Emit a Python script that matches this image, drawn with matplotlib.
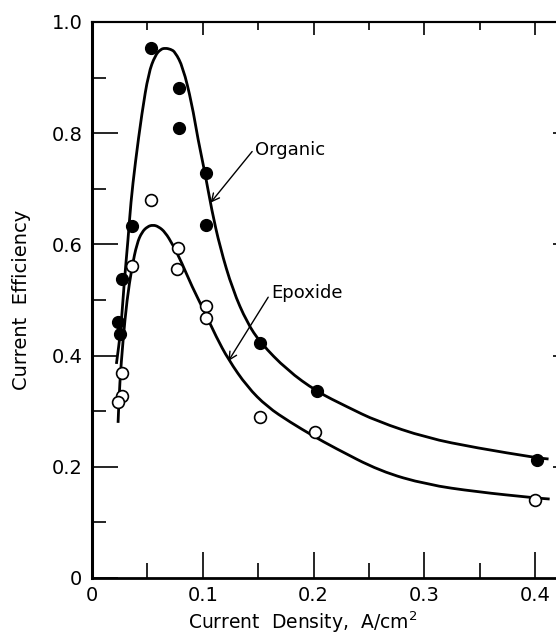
import matplotlib.pyplot as plt
from matplotlib.path import Path
from matplotlib.patches import PathPatch
from matplotlib.ticker import MultipleLocator

# measured points
organic_x = [0.053, 0.0785, 0.0785, 0.103, 0.103, 0.036, 0.027, 0.0235, 0.025, 0.152, 0.203, 0.402]
organic_y = [0.953, 0.881, 0.809, 0.728, 0.635, 0.633, 0.538, 0.460, 0.439, 0.423, 0.336, 0.212]
epoxide_x = [0.053, 0.078, 0.077, 0.103, 0.103, 0.036, 0.027, 0.027, 0.0235, 0.152, 0.201, 0.400]
epoxide_y = [0.680, 0.594, 0.556, 0.489, 0.468, 0.561, 0.369, 0.327, 0.317, 0.290, 0.263, 0.140]

# drawn curves
organic_curve_x = [0.022, 0.026, 0.029, 0.0325, 0.035, 0.039, 0.045, 0.051, 0.057, 0.062, 0.066,
                   0.071, 0.075, 0.082, 0.090, 0.0957, 0.102, 0.108, 0.1155, 0.127, 0.140, 0.152,
                   0.176, 0.203, 0.230, 0.257, 0.302, 0.347, 0.402, 0.412]
organic_curve_y = [0.385, 0.446, 0.531, 0.608, 0.675, 0.746, 0.836, 0.908, 0.940, 0.951, 0.953,
                   0.951, 0.946, 0.919, 0.854, 0.788, 0.728, 0.662, 0.595, 0.518, 0.459, 0.423,
                   0.374, 0.335, 0.308, 0.282, 0.252, 0.234, 0.216, 0.214]
epoxide_curve_x = [0.0235, 0.025, 0.028, 0.0315, 0.036, 0.0406, 0.045, 0.050, 0.055, 0.060, 0.066,
                   0.073, 0.081, 0.090, 0.102, 0.112, 0.123, 0.140, 0.158, 0.179, 0.200, 0.218,
                   0.260, 0.302, 0.347, 0.400, 0.413]
epoxide_curve_y = [0.279, 0.351, 0.428, 0.500, 0.559, 0.602, 0.622, 0.632, 0.635, 0.632, 0.622,
                   0.599, 0.567, 0.525, 0.477, 0.434, 0.393, 0.344, 0.308, 0.280, 0.255, 0.235,
                   0.192, 0.168, 0.155, 0.144, 0.142]

x_ticks = [0, 0.1, 0.2, 0.3, 0.4]
x_tick_labels = ['0', '0.1', '0.2', '0.3', '0.4']
y_ticks = [0, 0.2, 0.4, 0.6, 0.8, 1.0]
y_tick_labels = ['0', '0.2', '0.4', '0.6', '0.8', '1.0']


def smooth_path(xs, ys):
    # quadratic bezier through midpoints, the read points act as control points
    pts = list(zip(xs, ys))
    verts = [pts[0]]
    codes = [Path.MOVETO]
    mids = [((pts[i][0] + pts[i + 1][0]) / 2, (pts[i][1] + pts[i + 1][1]) / 2)
            for i in range(len(pts) - 1)]
    verts.append(mids[0])
    codes.append(Path.LINETO)
    for i in range(1, len(pts) - 1):
        verts += [pts[i], mids[i]]
        codes += [Path.CURVE3, Path.CURVE3]
    verts.append(pts[-1])
    codes.append(Path.LINETO)
    return Path(verts, codes)


fig = plt.figure(figsize=(5.56, 6.35), dpi=100)
ax = fig.add_axes([0.1655, 0.0898, 0.847, 0.8756])

for cx, cy in [(organic_curve_x, organic_curve_y), (epoxide_curve_x, epoxide_curve_y)]:
    ax.add_patch(PathPatch(smooth_path(cx, cy), fill=False, edgecolor='black',
                           lw=2.0, capstyle='butt', joinstyle='round'))
ax.plot(organic_x, organic_y, 'o', color='black', ms=8.5, zorder=3)
ax.plot(epoxide_x, epoxide_y, 'o', mfc='white', mec='black', mew=1.2, ms=8.5, zorder=3)

# labels with arrows
ax.annotate('', xy=(0.107, 0.675), xytext=(0.1445, 0.767),
            arrowprops=dict(arrowstyle='->', lw=1.0, color='black',
                            shrinkA=0, shrinkB=0, mutation_scale=14))
ax.text(0.147, 0.770, 'Organic', fontsize=13, ha='left', va='center')
ax.annotate('', xy=(0.123, 0.390), xytext=(0.159, 0.505),
            arrowprops=dict(arrowstyle='->', lw=1.0, color='black',
                            shrinkA=0, shrinkB=0, mutation_scale=14))
ax.text(0.162, 0.513, 'Epoxide', fontsize=13, ha='left', va='center')

ax.set_xlim(0, 0.425)
ax.set_ylim(0, 1.0)

ax.set_xticks(x_ticks)
ax.set_xticklabels(x_tick_labels)
ax.set_yticks(y_ticks)
ax.set_yticklabels(y_tick_labels)
ax.xaxis.set_minor_locator(MultipleLocator(0.05))
ax.yaxis.set_minor_locator(MultipleLocator(0.1))
ax.tick_params(axis='x', which='major', direction='in', length=19, width=1.2, labelsize=14, pad=6)
ax.tick_params(axis='x', which='minor', direction='in', length=11, width=1.2)
ax.tick_params(axis='y', which='major', direction='in', length=19, width=1.2, labelsize=14, pad=7)
ax.tick_params(axis='y', which='minor', direction='in', length=10, width=1.2)

# top and right ticks
top = ax.secondary_xaxis('top')
top.set_xticks(x_ticks)
top.set_xticklabels([])
top.xaxis.set_minor_locator(MultipleLocator(0.05))
top.tick_params(which='major', direction='in', length=9, width=1.2)
top.tick_params(which='minor', direction='in', length=6, width=1.2)
top.spines['top'].set_linewidth(1.5)

right = ax.secondary_yaxis('right')
right.set_yticks([0.2, 0.4, 0.6, 0.8])
right.set_yticklabels([])
right.tick_params(direction='in', length=7, width=1.2)

ax.spines['left'].set_linewidth(2.2)
ax.spines['bottom'].set_linewidth(2.0)
ax.spines['top'].set_linewidth(1.5)

ax.set_xlabel('Current  Density,  A/cm$^{2}$', fontsize=13.5, va='center')
ax.xaxis.set_label_coords(0.448, -0.079)
ax.set_ylabel('Current  Efficiency', fontsize=14, va='center')
ax.yaxis.set_label_coords(-0.149, 0.5)

fig.savefig('out.png', dpi=100)
